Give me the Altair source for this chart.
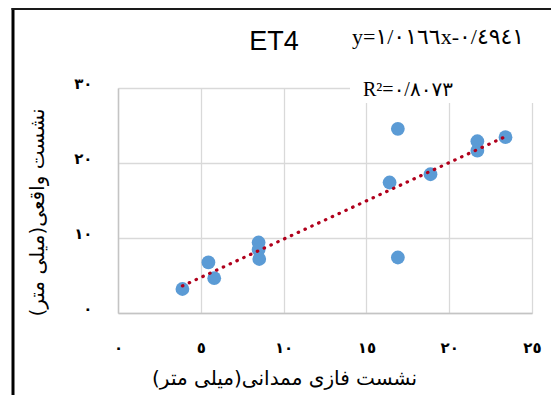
import altair as alt
import pandas as pd

# --- data ---
x_vals = [3.89, 5.46, 5.81, 8.49, 8.49, 8.53, 16.9, 16.9, 16.4, 18.87, 21.7, 21.7, 23.4]
y_vals = [3.2, 6.75, 4.65, 9.4, 8.45, 7.2, 24.56, 7.4, 17.4, 18.5, 22.9, 21.65, 23.45]

x_ticks = [0, 5, 10, 15, 20, 25]
x_tick_labels = ["٠", "٥", "١٠", "١٥", "٢٠", "٢٥"]
y_ticks = [0, 10, 20, 30]
y_tick_labels = ["٠", "١٠", "٢٠", "٣٠"]

title_text = "ET4"
equation_text = "y=١/٠١٦٦x-٠/٤٩٤١"
r2_text = "R²=٠/٨٠٧٣"
x_title = "\u200fنشست فازی ممدانی(میلی متر)\u200f"
y_title = "\u200fنشست واقعی(میلی متر)\u200f"

df = pd.DataFrame({"x": x_vals, "y": y_vals})
one = pd.DataFrame({"k": [0]})


def label_expr(ticks, labels):
    arr_t = "[" + ",".join(str(t) for t in ticks) + "]"
    arr_l = "[" + ",".join("'" + s + "'" for s in labels) + "]"
    return f"{arr_l}[indexof({arr_t}, datum.value)]"


FONT_AR = "DejaVu Sans"

xscale = alt.Scale(domain=[0, 25], nice=False, zero=False)
yscale = alt.Scale(domain=[0, 30], nice=False, zero=False)

x_axis = alt.Axis(
    values=x_ticks, labelExpr=label_expr(x_ticks, x_tick_labels),
    ticks=False, domainColor="#C4C4C4", domainWidth=1.5,
    gridColor="#D9D9D9", gridWidth=1.3,
    labelPadding=27, labelFontSize=15, labelFontWeight="bold",
    labelFont=FONT_AR, labelColor="#000000", labelFlush=False,
    title=x_title, titleFont=FONT_AR, titleFontSize=20, titleFontWeight="normal",
    titleColor="#000000", titleX=166, titleY=65, titleBaseline="middle",
    titleAlign="center",
)
y_axis = alt.Axis(
    values=y_ticks, labelExpr=label_expr(y_ticks, y_tick_labels),
    ticks=False, domainColor="#C4C4C4", domainWidth=1.5,
    gridColor="#D9D9D9", gridWidth=1.3,
    labelPadding=26, labelOffset=-5, labelFontSize=15, labelFontWeight="bold",
    labelFont=FONT_AR, labelColor="#000000", labelFlush=False,
    title=y_title, titleFont=FONT_AR, titleFontSize=20, titleFontWeight="normal",
    titleColor="#000000", titleX=-81, titleY=124, titleAngle=270,
    titleBaseline="middle", titleAlign="center",
)

base = alt.Chart(df)

points = base.mark_circle(size=190, color="#5B9BD5", opacity=1).encode(
    x=alt.X("x:Q", scale=xscale, axis=x_axis),
    y=alt.Y("y:Q", scale=yscale, axis=y_axis),
)

trend = base.transform_regression("x", "y").mark_line(
    color="#B0001C", strokeWidth=3.2, strokeDash=[0.5, 7], strokeCap="round"
).encode(x=alt.X("x:Q", scale=xscale), y=alt.Y("y:Q", scale=yscale))

white_box = alt.Chart(one).mark_rect(color="white").encode(
    x=alt.value(232), x2=alt.value(422), y=alt.value(-10), y2=alt.value(15)
)

t_title = alt.Chart(one).mark_text(
    text=title_text, font="Liberation Sans", fontSize=27, align="center",
    baseline="alphabetic", color="#000000"
).encode(x=alt.value(156), y=alt.value(-38))

t_eq = alt.Chart(one).mark_text(
    text=equation_text, font="Liberation Serif, DejaVu Sans", fontSize=22,
    align="left", baseline="alphabetic", color="#000000"
).encode(x=alt.value(234), y=alt.value(-44))

t_r2 = alt.Chart(one).mark_text(
    text=r2_text, font="Liberation Serif, DejaVu Sans", fontSize=20,
    align="left", baseline="alphabetic", color="#000000"
).encode(x=alt.value(245), y=alt.value(8))

frame_left = alt.Chart(one).mark_rule(color="#000000", strokeWidth=3).encode(
    x=alt.value(-105), y=alt.value(-80), y2=alt.value(307)
)
frame_top = alt.Chart(one).mark_rule(color="#1a1a1a", strokeWidth=2).encode(
    y=alt.value(-79), x=alt.value(-106.5), x2=alt.value(433)
)

chart = alt.layer(
    points, trend, white_box, t_r2, t_title, t_eq, frame_left, frame_top
).properties(
    width=414, height=225,
    autosize=alt.AutoSizeParams(type="none"),
    padding={"left": 110, "top": 80, "right": 19, "bottom": 82},
    background="white",
).configure_view(strokeWidth=0)

chart.save("out.html", embed_options={"renderer": "svg", "actions": False})
